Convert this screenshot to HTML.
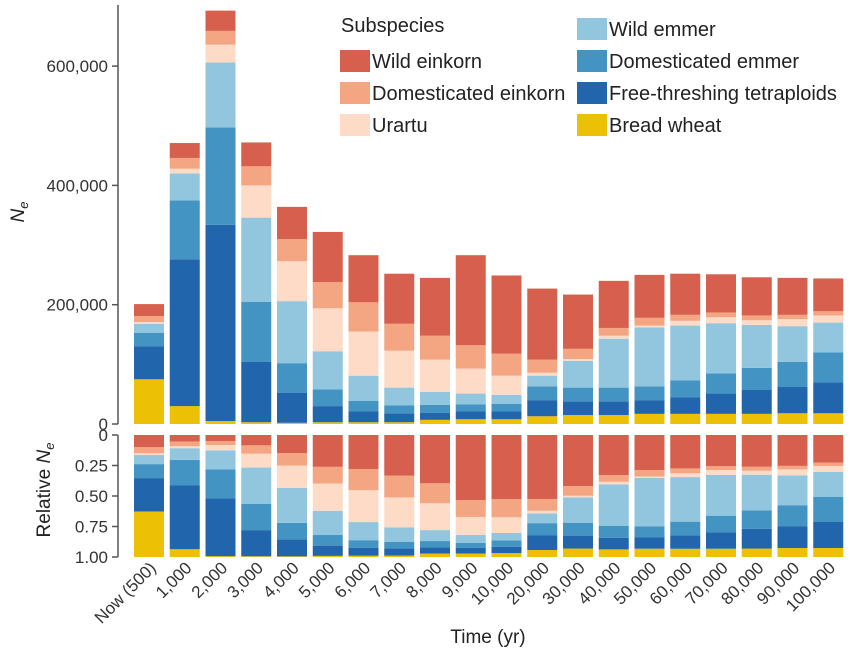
<!DOCTYPE html>
<html><head><meta charset="utf-8"><style>
body{margin:0;background:#fff;}
svg{display:block;font-family:"Liberation Sans",sans-serif;}
</style></head><body>
<svg id="chart" width="860" height="658" viewBox="0 0 860 658"></svg>
<script>
const categories=["Now (500)","1,000","2,000","3,000","4,000","5,000","6,000","7,000","8,000","9,000","10,000","20,000","30,000","40,000","50,000","60,000","70,000","80,000","90,000","100,000"];
const seriesNames=["Bread wheat","Free-threshing tetraploids","Domesticated emmer","Wild emmer","Urartu","Domesticated einkorn","Wild einkorn"];
const seriesColors=["#ebc005","#2166ac","#4393c3","#92c5de","#fddbc7","#f4a582","#d6604d"];
// values in thousands
const breadWheat=[75,30,5,3,2,3,3,3,7,8,8,13,15,15,17,17,17,17,18,18];
const freeThreshing=[55,246,329,101,50,27,18,15,12,13,13,27,23,23,23,28,34,40,44,52];
const domEmmer=[23,99,163,101,50,28,18,13,13,12,13,23,23,23,23,28,34,37,42,50];
const wildEmmer=[15,45,109,141,104,64,42,30,22,18,15,18,45,82,99,92,84,72,60,50];
const urartu=[3,8,30,54,67,72,74,62,54,42,32,5,3,5,3,8,10,8,12,12];
const domEinkorn=[10,18,23,32,37,44,49,45,40,39,37,22,17,13,13,10,8,8,7,7];
const wildEinkorn=[20,25,34,40,54,84,79,84,97,151,131,119,91,79,72,69,64,64,62,55];
const series=[breadWheat,freeThreshing,domEmmer,wildEmmer,urartu,domEinkorn,wildEinkorn];
const yTicks=[0,200,400,600];
const yTickLabels=["0","200,000","400,000","600,000"];
const relTicks=[0,0.25,0.5,0.75,1];
const relTickLabels=["0","0.25","0.50","0.75","1.00"];

const NS="http://www.w3.org/2000/svg";
const svg=document.getElementById('chart');
function mk(tag,attrs,parent){const e=document.createElementNS(NS,tag);for(const k in attrs)e.setAttribute(k,attrs[k]);(parent||svg).appendChild(e);return e;}
const axX=118, x0=149, step=35.75, bw=30;
const xC=i=>x0+i*step;
const yTop=v=>424-v*(119.3/200);
const yRel=f=>435+f*122;

const ax1=mk('line',{x1:axX,y1:5,x2:axX,y2:424,stroke:'#555','stroke-width':1.5});

yTicks.forEach((t,i)=>{
  mk('line',{x1:axX-6,x2:axX,y1:yTop(t),y2:yTop(t),stroke:'#555','stroke-width':1.5});
  const tx=mk('text',{x:axX-10,y:yTop(t)+6,'text-anchor':'end','font-size':17,fill:'#333'});
  tx.textContent=yTickLabels[i];
  
  
});
const ax2=mk('line',{x1:axX,y1:435,x2:axX,y2:557,stroke:'#555','stroke-width':1.5});

relTicks.forEach((t,i)=>{
  mk('line',{x1:axX-6,x2:axX,y1:yRel(t),y2:yRel(t),stroke:'#555','stroke-width':1.5});
  const tx=mk('text',{x:axX-10,y:yRel(t)+6,'text-anchor':'end','font-size':17,fill:'#333'});
  tx.textContent=relTickLabels[i];
  
  
});

categories.forEach((c,i)=>{
  let cum=0,total=0;
  series.forEach(s=>total+=s[i]);
  let rcum=0;
  series.forEach((s,k)=>{
    const v=s[i];
    const r=mk('rect',{x:xC(i)-bw/2,y:yTop(cum+v),width:bw,height:Math.max(0,yTop(cum)-yTop(cum+v)),fill:seriesColors[k]});
    
    
    cum+=v;
    const f=v/total;
    const r2=mk('rect',{x:xC(i)-bw/2,y:yRel(1-rcum-f),width:bw,height:f*122,fill:seriesColors[k]});
    
    
    rcum+=f;
  });
  const lx=xC(i)+8,ly=569;
  const tl=mk('text',{x:lx,y:ly,'text-anchor':'end','font-size':17,fill:'#333',transform:`rotate(-45 ${lx} ${ly})`});
  tl.textContent=c;
  
  
});

const yt=mk('text',{x:24,y:212,'text-anchor':'middle','font-size':19,fill:'#222',transform:'rotate(-90 24 212)'});
yt.innerHTML='<tspan font-style="italic">N</tspan><tspan font-size="13" dy="4" font-style="italic">e</tspan>';

const rt=mk('text',{x:50,y:490,'text-anchor':'middle','font-size':19,fill:'#222',transform:'rotate(-90 50 490)'});
rt.innerHTML='Relative <tspan font-style="italic">N</tspan><tspan font-size="13" dy="4" font-style="italic">e</tspan>';

const xt=mk('text',{x:488,y:643,'text-anchor':'middle','font-size':19,fill:'#222'});
xt.textContent='Time (yr)';


const lt=mk('text',{x:341,y:32,'font-size':20,fill:'#222'});
lt.textContent='Subspecies';

const legendItems=[[6,340,61],[5,340,93],[4,340,125],[3,577,29],[2,577,61],[1,577,93],[0,577,125]];
legendItems.forEach(([k,lx,ly])=>{
  const sw=mk('rect',{x:lx,y:ly-11,width:30,height:22,fill:seriesColors[k]});
  
  const t=mk('text',{x:lx+32,y:ly+7,'font-size':20,fill:'#222'});
  t.textContent=seriesNames[k];
  
});
</script>
</body></html>
